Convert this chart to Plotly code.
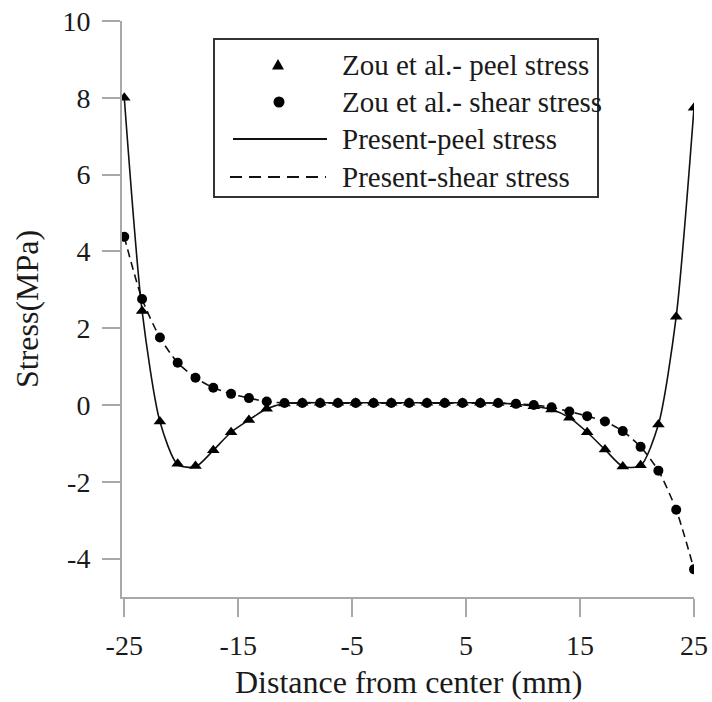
import plotly.graph_objects as go

# x positions (mm from center)
x_pos = [-25 + i * 1.5625 for i in range(33)]

zou_peel = [8.00, 2.45, -0.43, -1.53, -1.59, -1.18, -0.71, -0.39, -0.10, 0.04,
            0.06, 0.06, 0.06, 0.06, 0.06, 0.06, 0.06, 0.06, 0.06, 0.06,
            0.06, 0.05, 0.02, -0.03, -0.12, -0.33, -0.71, -1.16, -1.60, -1.57,
            -0.51, 2.30, 7.74]
zou_shear = [4.38, 2.76, 1.76, 1.10, 0.71, 0.45, 0.29, 0.18, 0.09, 0.05,
             0.05, 0.05, 0.05, 0.05, 0.05, 0.05, 0.05, 0.05, 0.05, 0.05,
             0.05, 0.05, 0.03, 0.00, -0.06, -0.17, -0.29, -0.43, -0.68, -1.09,
             -1.71, -2.73, -4.28]
present_peel = [8.00, 2.45, -0.43, -1.55, -1.61, -1.18, -0.71, -0.39, -0.10, 0.04,
                0.06, 0.06, 0.06, 0.06, 0.06, 0.06, 0.06, 0.06, 0.06, 0.06,
                0.06, 0.05, 0.02, -0.03, -0.12, -0.33, -0.71, -1.16, -1.60, -1.58,
                -0.51, 2.30, 7.74]
present_shear = [4.38, 2.76, 1.76, 1.10, 0.71, 0.45, 0.29, 0.18, 0.09, 0.05,
                 0.05, 0.05, 0.05, 0.05, 0.05, 0.05, 0.05, 0.05, 0.05, 0.05,
                 0.05, 0.05, 0.03, 0.00, -0.06, -0.17, -0.29, -0.43, -0.68, -1.09,
                 -1.71, -2.73, -4.28]

x_ticks = [-25, -15, -5, 5, 15, 25]
y_ticks = [-4, -2, 0, 2, 4, 6, 8, 10]
legend_labels = ["Zou et al.- peel stress", "Zou et al.- shear stress",
                 "Present-peel stress", "Present-shear stress"]

FONT = "Times New Roman, Liberation Serif, serif"
TXT = "#1a1a1a"
AX = "#a8a8a8"

W, H = 712, 702
ML, MR, MT, MB = 122, 18, 21, 105
PW, PH = W - ML - MR, H - MT - MB


def px(xp):
    return (xp - ML) / PW


def py(yp):
    return (H - MB - yp) / PH


fig = go.Figure()
fig.add_trace(go.Scatter(x=x_pos, y=present_peel, mode="lines", name=legend_labels[2],
                         line=dict(color="#111", width=1.6, shape="spline", smoothing=0.7)))
fig.add_trace(go.Scatter(x=x_pos, y=present_shear, mode="lines", name=legend_labels[3],
                         line=dict(color="#111", width=1.6, dash="8px,5px", shape="spline", smoothing=0.7)))
fig.add_trace(go.Scatter(x=x_pos, y=zou_shear, mode="markers", name=legend_labels[1],
                         marker=dict(symbol="circle", size=10, color="#000")))
fig.add_trace(go.Scatter(x=x_pos, y=zou_peel, mode="markers", name=legend_labels[0],
                         marker=dict(symbol="triangle-up", size=11, color="#000")))

# hand-drawn legend box (matches the original figure's legend)
shapes = [
    dict(type="rect", xref="paper", yref="paper", x0=px(214), x1=px(598), y0=py(197), y1=py(39),
         line=dict(color="#333", width=2), fillcolor="white", layer="above"),
    dict(type="path", xref="paper", yref="paper", xsizemode="pixel", ysizemode="pixel",
         xanchor=px(278), yanchor=py(65), path="M-6,-4.5 L6,-4.5 L0,6 Z",
         fillcolor="#000", line=dict(width=0), layer="above"),
    dict(type="circle", xref="paper", yref="paper", xsizemode="pixel", ysizemode="pixel",
         xanchor=px(279), yanchor=py(102), x0=-5.5, x1=5.5, y0=-5.5, y1=5.5,
         fillcolor="#000", line=dict(width=0), layer="above"),
    dict(type="line", xref="paper", yref="paper", x0=px(233), x1=px(327), y0=py(139), y1=py(139),
         line=dict(color="#111", width=2), layer="above"),
    dict(type="line", xref="paper", yref="paper", x0=px(230), x1=px(326), y0=py(177), y1=py(177),
         line=dict(color="#111", width=2, dash="12px,7px"), layer="above"),
]
row_y = [65, 102, 139, 177]
annotations = [
    dict(text=lab, xref="paper", yref="paper", x=px(340), y=py(ry), xanchor="left", yanchor="middle",
         showarrow=False, font=dict(family=FONT, size=29, color=TXT))
    for lab, ry in zip(legend_labels, row_y)
]
annotations += [
    dict(text="Distance from center (mm)", xref="paper", yref="paper", x=px(408), y=0,
         xanchor="center", yanchor="middle", yshift=-(682 - (H - MB)), showarrow=False,
         font=dict(family=FONT, size=32, color=TXT)),
    dict(text="Stress(MPa)", xref="paper", yref="paper", x=0, y=0.5, textangle=-90,
         xanchor="center", yanchor="middle", xshift=-(ML - 27), showarrow=False,
         font=dict(family=FONT, size=32, color=TXT)),
]

fig.update_layout(
    width=W, height=H, autosize=False,
    margin=dict(l=ML, r=MR, t=MT, b=MB, autoexpand=False),
    paper_bgcolor="white", plot_bgcolor="white",
    font=dict(family=FONT, size=28, color=TXT),
    showlegend=False,
    shapes=shapes, annotations=annotations,
)
fig.update_xaxes(range=[-25.2, 25], tickvals=x_ticks, ticktext=[str(v) for v in x_ticks],
                 automargin=False, ticklabelstandoff=4,
                 showline=True, linecolor=AX, linewidth=2, ticks="outside", ticklen=18,
                 tickwidth=2, tickcolor=AX, showgrid=False, zeroline=False,
                 tickfont=dict(family=FONT, size=28, color=TXT))
fig.update_yaxes(range=[-5, 10], tickvals=y_ticks, ticktext=[str(v) for v in y_ticks],
                 automargin=False, ticklabelstandoff=6,
                 showline=True, linecolor=AX, linewidth=2, ticks="outside", ticklen=18,
                 tickwidth=2, tickcolor=AX, showgrid=False, zeroline=False,
                 tickfont=dict(family=FONT, size=28, color=TXT))

fig.write_html("out.html")
